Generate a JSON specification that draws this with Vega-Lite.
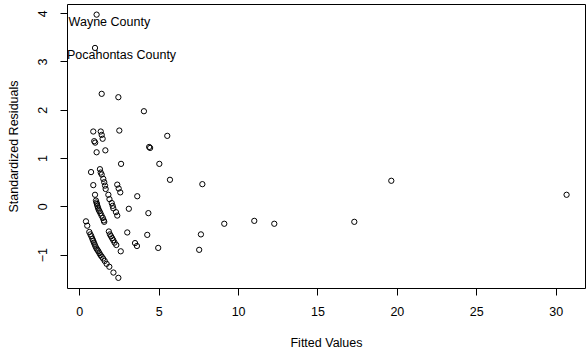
{
  "$schema": "https://vega.github.io/schema/vega-lite/v6.json",
  "width": 518,
  "height": 284,
  "autosize": {"type": "none"},
  "padding": {"left": 67, "top": 4, "right": 2, "bottom": 63},
  "background": "white",
  "config": {
    "view": {"stroke": "black", "strokeWidth": 1},
    "font": "Liberation Sans",
    "axis": {
      "grid": false, "domain": false, "tickColor": "black", "tickSize": 7, "tickWidth": 1,
      "labelColor": "black", "titleColor": "black", "labelFontSize": 12.5, "titleFontSize": 12.5,
      "titleFontWeight": "normal", "labelFont": "Liberation Sans", "titleFont": "Liberation Sans",
      "labelFlush": false, "labelOverlap": false
    }
  },
  "data": {"values": [
    {"fitted": 1.09, "resid": 3.97, "county": "Wayne County"},
    {"fitted": 0.99, "resid": 3.28, "county": "Pocahontas County"},
    {"fitted": 1.41, "resid": 2.33},
    {"fitted": 2.46, "resid": 2.26},
    {"fitted": 4.07, "resid": 1.97},
    {"fitted": 0.88, "resid": 1.55},
    {"fitted": 1.35, "resid": 1.55},
    {"fitted": 1.41, "resid": 1.48},
    {"fitted": 1.47, "resid": 1.40},
    {"fitted": 0.94, "resid": 1.35},
    {"fitted": 1.00, "resid": 1.32},
    {"fitted": 2.52, "resid": 1.57},
    {"fitted": 5.54, "resid": 1.46},
    {"fitted": 4.40, "resid": 1.23},
    {"fitted": 4.46, "resid": 1.21},
    {"fitted": 1.09, "resid": 1.12},
    {"fitted": 1.64, "resid": 1.16},
    {"fitted": 2.63, "resid": 0.88},
    {"fitted": 5.04, "resid": 0.88},
    {"fitted": 0.74, "resid": 0.71},
    {"fitted": 1.30, "resid": 0.77},
    {"fitted": 1.35, "resid": 0.70},
    {"fitted": 1.41, "resid": 0.66},
    {"fitted": 1.51, "resid": 0.57},
    {"fitted": 1.57, "resid": 0.50},
    {"fitted": 5.71, "resid": 0.55},
    {"fitted": 7.75, "resid": 0.46},
    {"fitted": 0.88, "resid": 0.44},
    {"fitted": 1.62, "resid": 0.43},
    {"fitted": 1.66, "resid": 0.36},
    {"fitted": 2.39, "resid": 0.45},
    {"fitted": 2.48, "resid": 0.37},
    {"fitted": 2.58, "resid": 0.29},
    {"fitted": 3.65, "resid": 0.21},
    {"fitted": 0.99, "resid": 0.24},
    {"fitted": 1.83, "resid": 0.24},
    {"fitted": 1.90, "resid": 0.15},
    {"fitted": 2.04, "resid": 0.07},
    {"fitted": 2.10, "resid": 0.01},
    {"fitted": 2.14, "resid": -0.04},
    {"fitted": 2.31, "resid": -0.12},
    {"fitted": 2.39, "resid": -0.19},
    {"fitted": 3.12, "resid": -0.05},
    {"fitted": 4.35, "resid": -0.14},
    {"fitted": 9.13, "resid": -0.36},
    {"fitted": 11.02, "resid": -0.30},
    {"fitted": 12.28, "resid": -0.36},
    {"fitted": 17.32, "resid": -0.32},
    {"fitted": 19.65, "resid": 0.53},
    {"fitted": 30.69, "resid": 0.24},
    {"fitted": 7.66, "resid": -0.58},
    {"fitted": 7.55, "resid": -0.90},
    {"fitted": 3.02, "resid": -0.54},
    {"fitted": 4.28, "resid": -0.59},
    {"fitted": 3.51, "resid": -0.76},
    {"fitted": 3.63, "resid": -0.82},
    {"fitted": 4.97, "resid": -0.86},
    {"fitted": 2.61, "resid": -0.93},
    {"fitted": 1.05, "resid": 0.12},
    {"fitted": 1.08, "resid": 0.08},
    {"fitted": 1.11, "resid": 0.05},
    {"fitted": 1.14, "resid": 0.01},
    {"fitted": 1.18, "resid": -0.03},
    {"fitted": 1.22, "resid": -0.07},
    {"fitted": 1.27, "resid": -0.10},
    {"fitted": 1.33, "resid": -0.14},
    {"fitted": 1.40, "resid": -0.19},
    {"fitted": 1.48, "resid": -0.24},
    {"fitted": 1.54, "resid": -0.29},
    {"fitted": 1.57, "resid": -0.32},
    {"fitted": 1.86, "resid": -0.52},
    {"fitted": 1.93, "resid": -0.58},
    {"fitted": 2.00, "resid": -0.62},
    {"fitted": 2.07, "resid": -0.66},
    {"fitted": 2.14, "resid": -0.70},
    {"fitted": 2.22, "resid": -0.75},
    {"fitted": 2.33, "resid": -0.80},
    {"fitted": 0.42, "resid": -0.31},
    {"fitted": 0.50, "resid": -0.40},
    {"fitted": 0.63, "resid": -0.53},
    {"fitted": 0.70, "resid": -0.58},
    {"fitted": 0.76, "resid": -0.62},
    {"fitted": 0.82, "resid": -0.67},
    {"fitted": 0.87, "resid": -0.71},
    {"fitted": 0.92, "resid": -0.75},
    {"fitted": 0.97, "resid": -0.79},
    {"fitted": 1.02, "resid": -0.83},
    {"fitted": 1.08, "resid": -0.87},
    {"fitted": 1.14, "resid": -0.90},
    {"fitted": 1.20, "resid": -0.93},
    {"fitted": 1.27, "resid": -0.97},
    {"fitted": 1.34, "resid": -1.01},
    {"fitted": 1.41, "resid": -1.04},
    {"fitted": 1.50, "resid": -1.08},
    {"fitted": 1.60, "resid": -1.13},
    {"fitted": 1.72, "resid": -1.19},
    {"fitted": 1.89, "resid": -1.25},
    {"fitted": 2.15, "resid": -1.37},
    {"fitted": 2.46, "resid": -1.48}
  ]},
  "encoding": {
    "x": {
      "field": "fitted", "type": "quantitative",
      "scale": {"domain": [-0.775, 31.85], "nice": false, "zero": false},
      "axis": {"values": [0, 5, 10, 15, 20, 25, 30], "labelPadding": 10, "title": "Fitted Values", "titlePadding": 19}
    },
    "y": {
      "field": "resid", "type": "quantitative",
      "scale": {"domain": [-1.69, 4.19], "nice": false, "zero": false},
      "axis": {"values": [-1, 0, 1, 2, 3, 4], "labelAngle": -90, "labelAlign": "center", "labelBaseline": "alphabetic", "labelPadding": 14, "title": "Standardized Residuals", "titlePadding": 16}
    }
  },
  "layer": [
    {
      "mark": {"type": "point", "shape": "circle", "filled": false, "color": "black", "size": 28, "strokeWidth": 1, "opacity": 1}
    },
    {
      "transform": [{"filter": "isValid(datum.county)"}],
      "mark": {"type": "text", "align": "left", "baseline": "middle", "dx": -28, "dy": 7, "fontSize": 12.5, "font": "Liberation Sans", "color": "black"},
      "encoding": {"text": {"field": "county"}}
    }
  ]
}
